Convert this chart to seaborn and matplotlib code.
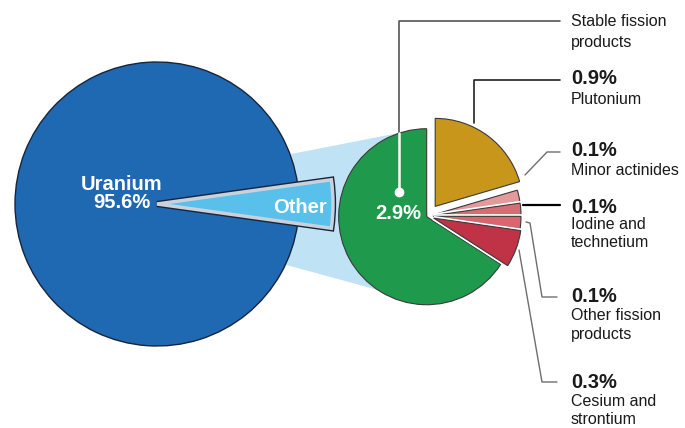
import matplotlib
matplotlib.use("Agg")
import matplotlib.pyplot as plt
import matplotlib.patheffects as pe
from matplotlib.patches import Polygon
import seaborn as sns

# data
main_labels = ["Other", "Uranium"]
main_values = [4.4, 95.6]
other_labels = ["Plutonium", "Minor actinides", "Iodine and\ntechnetium",
                "Other fission\nproducts", "Cesium and\nstrontium", "Stable fission\nproducts"]
other_values = [0.9, 0.1, 0.1, 0.1, 0.3, 2.9]

sns.set_theme(style="white")
plt.rcParams["font.family"] = ["Liberation Sans", "DejaVu Sans"]

W, H = 685, 428


def py(y):
    # pixel row (from top) -> data y
    return H - y


fig = plt.figure(figsize=(6.85, 4.28), dpi=100)
ax = fig.add_axes([0, 0, 1, 1])

main_colors = ["#58c0ea", "#1f69b3"]
other_colors = ["#c8961a", "#e49a9b", "#d86c75", "#d9666f", "#c03246", "#1f9a4c"]

# light blue band joining the two pies
band = Polygon([(250, py(162)), (404, py(132)), (428, py(216)), (400, py(296)), (250, py(255))],
               closed=True, facecolor="#bfe2f5", edgecolor="none", zorder=0)
ax.add_patch(band)

# main pie
big_c = (157, py(204))
wedges, _ = ax.pie(main_values, colors=main_colors, center=big_c, radius=142,
                   startangle=-360 * main_values[0] / 100 / 2, counterclock=True,
                   wedgeprops=dict(edgecolor="#17243a", linewidth=1.0), frame=True)
for w in wedges:
    w.set_zorder(2)
wedges[0].set_radius(176)
wedges[0].set_edgecolor("#c9d2dc")
wedges[0].set_linewidth(2.5)
wedges[0].set_zorder(3)
wedges[0].set_path_effects([pe.Stroke(linewidth=4.5, foreground="#17243a"), pe.Normal()])

# breakdown pie
small_c = (428, py(216))
explode = [12, 5, 5, 5, 6, 1.5]
sw, _ = ax.pie(other_values, colors=other_colors, center=small_c, radius=88,
               startangle=90, counterclock=False, explode=explode,
               wedgeprops=dict(edgecolor="#3a3a3a", linewidth=0.8), frame=True)
for w in sw[:-1]:
    w.set_zorder(2)
    w.set_path_effects([pe.Stroke(linewidth=3.2, foreground="white"), pe.Normal()])
sw[-1].set_zorder(1.9)

ax.set_xlim(0, W)
ax.set_ylim(0, H)
ax.set_aspect("equal")
ax.axis("off")

# labels inside pies
bold = dict(color="white", fontweight="bold", fontsize=14.5, ha="center", va="center", zorder=5)
ax.text(122, py(184), "Uranium", **bold)
ax.text(122, py(202), "95.6%", **bold)
ax.text(300, py(207), "Other", **bold)
ax.text(398, py(213), "2.9%", **bold)

# leader lines
dark = "#222222"
grey = "#6e6e6e"
ax.plot([399, 399, 560], [py(133), py(21), py(21)], color="#555555", lw=1.2, zorder=4)
ax.plot([399, 399], [py(192), py(133)], color="white", lw=1.8, zorder=4)
ax.plot([399], [py(192)], "o", color="white", ms=6, zorder=4)
ax.plot([474, 474, 560], [py(123), py(80), py(80)], color=dark, lw=1.2, zorder=4)
ax.plot([525, 547, 560], [py(175), py(152), py(152)], color=grey, lw=1.0, zorder=4)
ax.plot([523, 560], [py(205), py(205)], color="black", lw=1.6, zorder=4)
ax.plot([526, 530, 542, 557], [py(222), py(223), py(297), py(297)], color=grey, lw=1.0, zorder=4)
ax.plot([519, 542, 557], [py(250), py(382), py(382)], color=grey, lw=1.0, zorder=4)

# right hand annotations
tx = 571
pct_rows = [("0.9%", 78, "Plutonium", 99),
            ("0.1%", 150, "Minor actinides", 170),
            ("0.1%", 207, "Iodine and\ntechnetium", 224),
            ("0.1%", 297, "Other fission\nproducts", 316),
            ("0.3%", 382, "Cesium and\nstrontium", 401)]
txt = dict(color="#1a1a1a", fontsize=11.5, ha="left", va="center", zorder=5)
ax.text(tx, py(21), "Stable fission", **txt)
ax.text(tx, py(42), "products", **txt)
for pct, y1, name, y2 in pct_rows:
    ax.text(tx, py(y1), pct, color="#1a1a1a", fontsize=14.5, fontweight="bold",
            ha="left", va="center", zorder=5)
    for i, line in enumerate(name.split("\n")):
        ax.text(tx, py(y2 + i * 18.5), line, **txt)

fig.savefig("out.png", dpi=100, facecolor="white")
